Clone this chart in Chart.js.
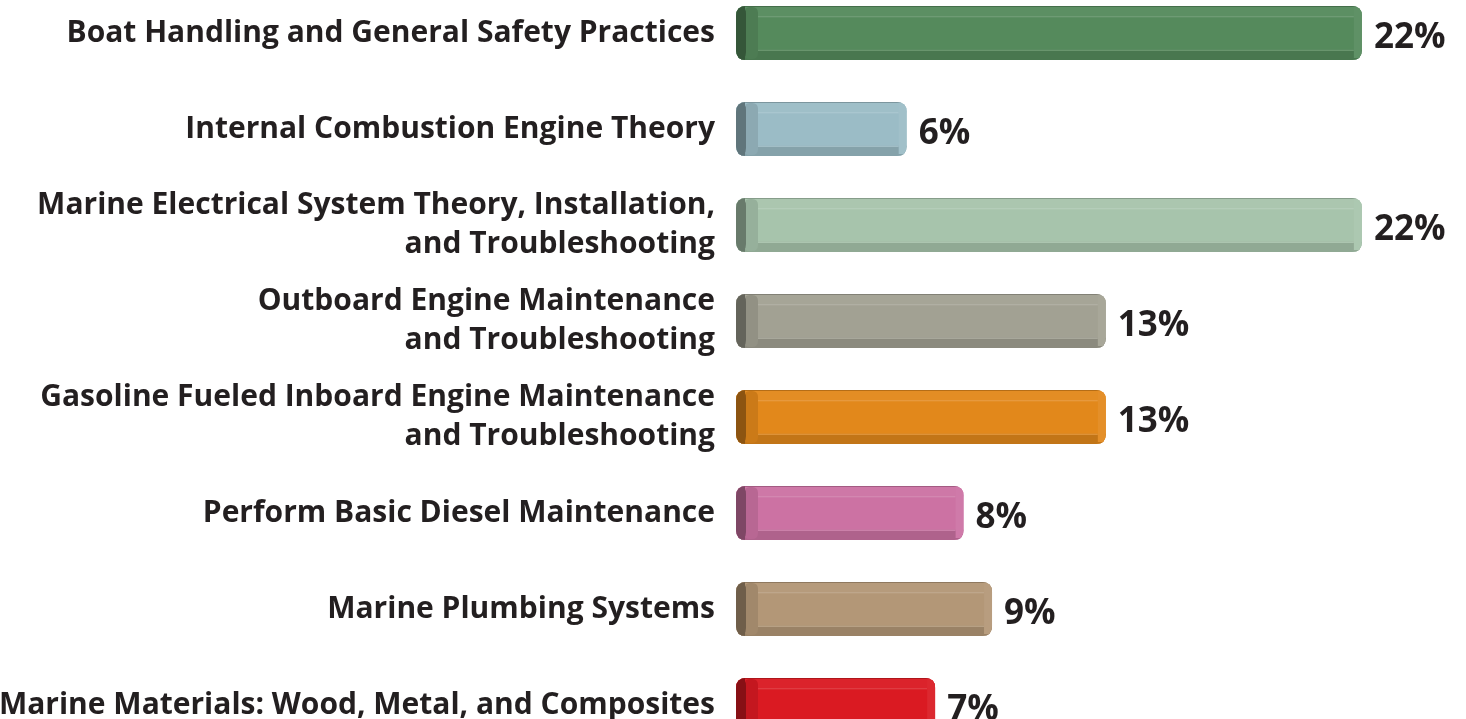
<!DOCTYPE html>
<html>
<head>
<meta charset="utf-8">
<script src="https://cdn.jsdelivr.net/npm/chart.js@4.4.0/dist/chart.umd.min.js"></script>
<style>
  html, body { margin: 0; padding: 0; background: #ffffff; overflow: hidden; width: 1466px; height: 719px; }
  #wrap { position: absolute; left: 0; top: -15px; width: 1466px; height: 768px; }
</style>
</head>
<body>
<div id="wrap"><canvas id="c" width="1466" height="768"></canvas></div>
<script>
const categories = [
  ["Boat Handling and General Safety Practices"],
  ["Internal Combustion Engine Theory"],
  ["Marine Electrical System Theory, Installation,", "and Troubleshooting"],
  ["Outboard Engine Maintenance", "and Troubleshooting"],
  ["Gasoline Fueled Inboard Engine Maintenance", "and Troubleshooting"],
  ["Perform Basic Diesel Maintenance"],
  ["Marine Plumbing Systems"],
  ["Marine Materials: Wood, Metal, and Composites"]
];
const values = [22, 6, 22, 13, 13, 8, 9, 7];
const valueLabels = ["22%", "6%", "22%", "13%", "13%", "8%", "9%", "7%"];
const barColors = ["#558a5c", "#9bbcc6", "#a7c4ac", "#a2a193", "#e2881b", "#cc72a3", "#b39777", "#da1a22"];

function hexToRgb(h) {
  const n = parseInt(h.slice(1), 16);
  return [(n >> 16) & 255, (n >> 8) & 255, n & 255];
}
function shade(h, f) {
  const c = hexToRgb(h).map(v => Math.max(0, Math.min(255, Math.round(v * f))));
  return `rgb(${c[0]},${c[1]},${c[2]})`;
}
function tint(h, t) {
  const c = hexToRgb(h).map(v => Math.round(v + (255 - v) * t));
  return `rgb(${c[0]},${c[1]},${c[2]})`;
}
function rr(ctx, x, y, w, h, r) {
  ctx.beginPath();
  ctx.moveTo(x + r, y);
  ctx.lineTo(x + w - r, y);
  ctx.quadraticCurveTo(x + w, y, x + w, y + r);
  ctx.lineTo(x + w, y + h - r);
  ctx.quadraticCurveTo(x + w, y + h, x + w - r, y + h);
  ctx.lineTo(x + r, y + h);
  ctx.quadraticCurveTo(x, y + h, x, y + h - r);
  ctx.lineTo(x, y + r);
  ctx.quadraticCurveTo(x, y, x + r, y);
  ctx.closePath();
}

const bevelPlugin = {
  id: 'bevel',
  afterDatasetsDraw(chart) {
    const ctx = chart.ctx;
    const meta = chart.getDatasetMeta(0);
    meta.data.forEach((el, i) => {
      const p = el.getProps(['x', 'y', 'base', 'height'], true);
      const left = Math.min(p.base, p.x), right = Math.max(p.base, p.x);
      const top = p.y - p.height / 2, h = p.height, w = right - left;
      const col = barColors[i];
      ctx.save();
      rr(ctx, left, top, w, h, 10);
      ctx.fillStyle = col;
      ctx.fill();
      ctx.clip();
      ctx.fillStyle = tint(col, 0.04);
      ctx.fillRect(left, top, w, h * 0.19);
      ctx.fillStyle = shade(col, 0.8);
      ctx.fillRect(left, top, w, 1);
      ctx.fillStyle = tint(col, 0.2);
      ctx.fillRect(left + 20, top + h * 0.19, w - 28, 1);
      ctx.fillStyle = shade(col, 0.86);
      ctx.fillRect(left, top + h * 0.81, w, h * 0.19 + 1);
      ctx.fillStyle = tint(col, 0.18);
      ctx.fillRect(left + 20, top + h * 0.81, w - 28, 1);
      ctx.fillStyle = shade(col, 0.9);
      rr(ctx, left + 8, top + 1, 14, h - 2, 6);
      ctx.fill();
      ctx.fillStyle = shade(col, 0.62);
      rr(ctx, left, top, 10, h, 8);
      ctx.fill();
      ctx.fillRect(left + 5, top, 4, h);
      ctx.fillStyle = tint(col, 0.06);
      ctx.fillRect(right - 8, top + 2, 8, h - 4);
      ctx.restore();
      ctx.save();
      ctx.font = "bold 35px 'Open Sans', Lato, sans-serif";
      ctx.fillStyle = "#231f20";
      ctx.textAlign = "left";
      ctx.textBaseline = "middle";
      ctx.fillText(valueLabels[i], right + 12, p.y + 5);
      ctx.restore();
    });
  }
};

new Chart(document.getElementById('c'), {
  type: 'bar',
  data: {
    labels: categories,
    datasets: [{
      data: values,
      backgroundColor: 'rgba(0,0,0,0)',
      borderWidth: 0,
      categoryPercentage: 1,
      barPercentage: 0.5625
    }]
  },
  options: {
    indexAxis: 'y',
    responsive: false,
    devicePixelRatio: 1,
    animation: false,
    layout: { padding: 0 },
    plugins: { legend: { display: false }, tooltip: { enabled: false } },
    scales: {
      x: { display: false, min: 0, max: 25.66 },
      y: {
        grid: { display: false, drawTicks: false },
        border: { display: false },
        afterFit(scale) { scale.width = 736; scale.paddingTop = 0; scale.paddingBottom = 0; },
        ticks: {
          color: '#231f20',
          padding: 21,
          font: { family: "'Open Sans', Lato, sans-serif", weight: 'bold', size: 30, lineHeight: 1.3 }
        }
      }
    }
  },
  plugins: [bevelPlugin]
});
</script>
</body>
</html>
